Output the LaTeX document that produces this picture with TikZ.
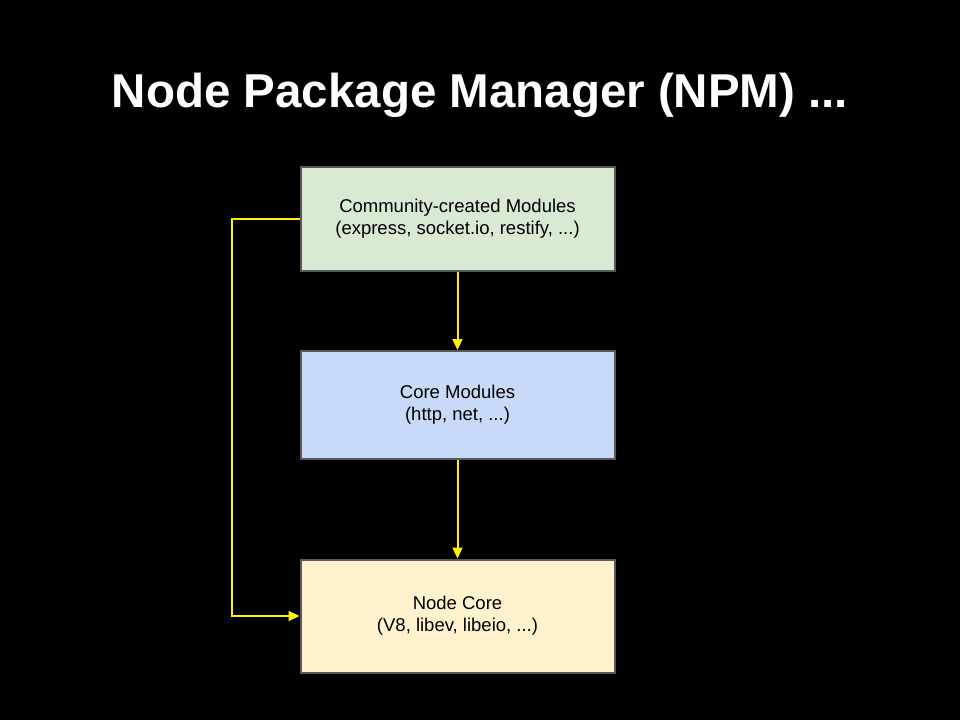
\documentclass[tikz,border=0pt]{standalone}
\usepackage{fontspec}
\setmainfont{Liberation Sans}
\usetikzlibrary{arrows.meta}

\tikzset{
  modbox/.style={draw=gray!70!black, line width=2pt, minimum width=314pt, align=center,
    font=\fontsize{18.5}{22}\selectfont, text=black},
  feed/.style={draw=yellow, line width=2pt, -{Triangle[length=11pt,width=10pt]}}
}

\begin{document}
\begin{tikzpicture}[x=1pt, y=-1pt]
        % Page
        \fill[black] (0,0) rectangle (960,720);
        \useasboundingbox (0,0) rectangle (960,720);

        % Title
        \node[text=white, anchor=base, font=\bfseries\fontsize{47.5}{57}\selectfont] (title) at (480,107) {Node Package Manager (NPM) ...};

        % Layers
        \node[modbox, fill={rgb,255:red,217;green,234;blue,211}, minimum height=104pt] (community) at (457.5,219) {Community-created Modules\\(express, socket.io, restify, ...)};
        \node[modbox, fill={rgb,255:red,201;green,218;blue,248}, minimum height=108pt] (core) at (457.5,405) {Core Modules\\(http, net, ...)};
        \node[modbox, fill={rgb,255:red,255;green,242;blue,204}, minimum height=113pt] (nodecore) at (457.5,616) {Node Core\\(V8, libev, libeio, ...)};

        % Dependencies
        \draw[feed] (community) -- (core);
        \draw[feed] (core) -- (nodecore);
        \draw[feed] (community.west) -- ++(-68,0) |- (nodecore.west);
    \end{tikzpicture}
\end{document}
